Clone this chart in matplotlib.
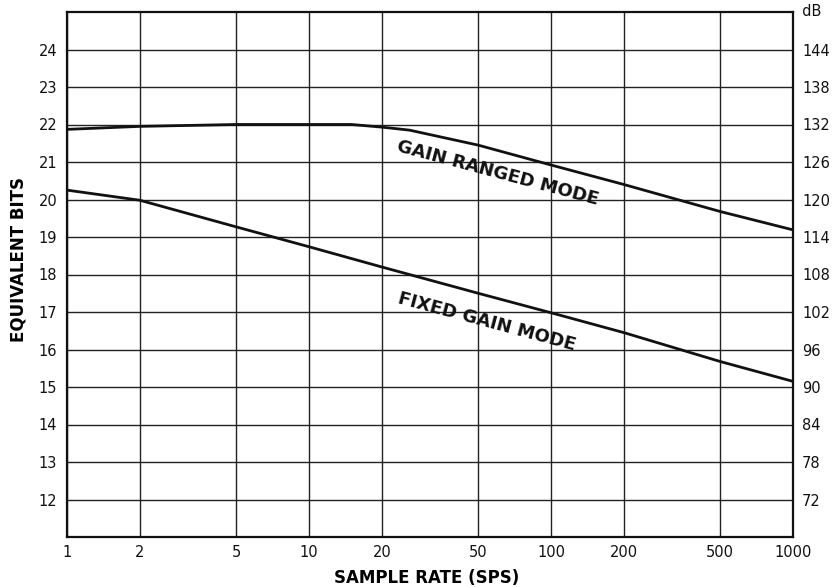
import matplotlib
matplotlib.use("Agg")
import matplotlib.pyplot as plt
import numpy as np

plt.rcParams['font.family'] = ['DejaVu Sans']

# Data
x_ticks = [1, 2, 5, 10, 20, 50, 100, 200, 500, 1000]
x_tick_labels = ["1", "2", "5", "10", "20", "50", "100", "200", "500", "1000"]
bits_ticks = list(range(12, 25))
db_ticks = list(range(72, 145, 6))

rate_ranged = [1, 2, 5, 10, 15, 20, 26, 50, 100, 200, 500, 1000]
bits_ranged = [21.87, 21.95, 22.0, 22.0, 22.0, 21.93, 21.85, 21.45, 20.92, 20.4, 19.68, 19.19]

rate_fixed = [1, 2, 5, 10, 20, 50, 100, 200, 500, 1000]
bits_fixed = [20.25, 19.98, 19.27, 18.74, 18.2, 17.5, 16.98, 16.45, 15.68, 15.15]

fig = plt.figure(figsize=(8.33, 5.87), dpi=100)
ax = fig.add_axes([67/833, 1-537/587, 726/833, 525/587])
ax.set_xscale('log')
ax.set_xlim(1, 1000)
ax.set_ylim(11, 25)

ax.set_xticks(x_ticks)
ax.set_xticklabels(x_tick_labels)
ax.xaxis.set_minor_locator(matplotlib.ticker.NullLocator())
ax.set_yticks(bits_ticks)
ax.set_yticklabels([str(v) for v in bits_ticks])
ax.tick_params(axis='both', length=0, labelsize=10.5, colors='#111111')
ax.tick_params(axis='x', pad=6)
ax.tick_params(axis='y', pad=7)

ax.grid(True, which='major', color='#222222', linewidth=1.0)
for s in ax.spines.values():
    s.set_linewidth(1.6)
    s.set_color('#111111')

ax.plot(rate_ranged, bits_ranged, color='#111111', linewidth=2.0)
ax.plot(rate_fixed, bits_fixed, color='#111111', linewidth=2.0)

ax.text(60.4, 20.7, "GAIN RANGED MODE", rotation=-15, ha='center', va='center',
        fontsize=13, fontweight='bold', color='#111111', rotation_mode='anchor')
ax.text(54.4, 16.74, "FIXED GAIN MODE", rotation=-15, ha='center', va='center',
        fontsize=13, fontweight='bold', color='#111111', rotation_mode='anchor')

ax.set_xlabel("SAMPLE RATE (SPS)", fontsize=12, fontweight='bold', va='center')
ax.xaxis.set_label_coords((427-67)/726, -(578-537)/525)
ax.set_ylabel("EQUIVALENT BITS", fontsize=12, fontweight='bold', va='center')
ax.yaxis.set_label_coords(-(67-18)/726, (537-260)/525)

ax2 = ax.twinx()
ax2.set_ylim(11*6, 25*6)
ax2.set_yticks(db_ticks)
ax2.set_yticklabels([str(v) for v in db_ticks])
ax2.tick_params(axis='y', length=0, labelsize=10.5, pad=6.5, colors='#111111')
for s in ax2.spines.values():
    s.set_visible(False)
ax2.text(1.0, 150, "  dB", transform=matplotlib.transforms.blended_transform_factory(ax2.transAxes, ax2.transData),
         ha='left', va='center', fontsize=10.5, color='#111111')

fig.savefig("out.png", dpi=100)
